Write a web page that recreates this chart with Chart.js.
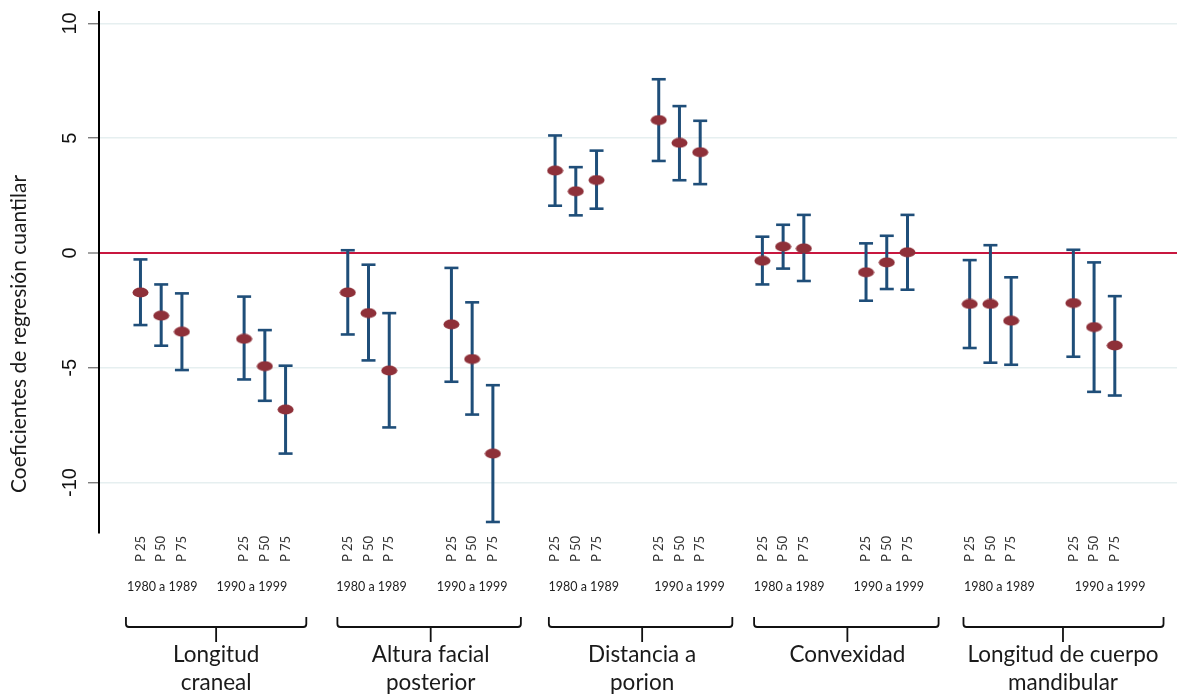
<!DOCTYPE html>
<html>
<head>
<meta charset="utf-8">
<script src="https://cdn.jsdelivr.net/npm/chart.js@4/dist/chart.umd.min.js"></script>
<style>
  html, body { margin: 0; padding: 0; background: #ffffff; }
  #wrap { width: 1178px; height: 695px; position: relative; }
</style>
</head>
<body>
<div id="wrap"><canvas id="c" width="1178" height="695"></canvas></div>
<script>
// ---------------- data ----------------
const groups = [
  ['Longitud', 'craneal'],
  ['Altura facial', 'posterior'],
  ['Distancia a', 'porion'],
  ['Convexidad'],
  ['Longitud de cuerpo', 'mandibular']
];
const periods = ['1980 a 1989', '1990 a 1999'];
const percentiles = ['P 25', 'P 50', 'P 75'];
const yTicks = [-10, -5, 0, 5, 10];
const yTitle = 'Coeficientes de regresión cuantilar';

// order: group -> period -> percentile
const coef = [
  -1.72, -2.73, -3.43,  -3.74, -4.93, -6.82,
  -1.72, -2.62, -5.12,  -3.11, -4.62, -8.74,
   3.59,  2.69,  3.18,   5.79,  4.80,  4.39,
  -0.34,  0.28,  0.20,  -0.84, -0.41,  0.03,
  -2.22, -2.22, -2.95,  -2.18, -3.23, -4.03
];
const upper = [
  -0.28, -1.37, -1.76,  -1.90, -3.36, -4.91,
   0.12, -0.51, -2.62,  -0.65, -2.15, -5.76,
   5.12,  3.74,  4.46,   7.57,  6.40,  5.76,
   0.71,  1.23,  1.66,   0.42,  0.75,  1.66,
  -0.31,  0.34, -1.06,   0.14, -0.41, -1.88
];
const lower = [
  -3.14, -4.04, -5.10,  -5.51, -6.44, -8.74,
  -3.55, -4.68, -7.60,  -5.61, -7.04, -11.72,
   2.06,  1.64,  1.93,   4.01,  3.17,  3.00,
  -1.37, -0.68, -1.22,  -2.08, -1.57, -1.60,
  -4.14, -4.78, -4.87,  -4.52, -6.05, -6.21
];

// ---------------- layout / style ----------------
const FONT = 'Lato, "Open Sans", sans-serif';
const TICKFONT = '"Liberation Sans", Arial, sans-serif';
const WHISKER = '#1f4e79';
const MARKER = '#8e3039';
const ZERO = '#c8173f';

// x position of each estimate: triplets separated by two empty slots
function xPos(i) {
  const t = Math.floor(i / 3), j = i % 3;
  return t * 5 + j;
}

const markerPts = coef.map((v, i) => ({ x: xPos(i), y: v }));
const capPts = [];
coef.forEach((v, i) => { capPts.push({ x: xPos(i), y: upper[i] }); capPts.push({ x: xPos(i), y: lower[i] }); });
const whiskerPts = [];
coef.forEach((v, i) => {
  whiskerPts.push({ x: xPos(i), y: lower[i] });
  whiskerPts.push({ x: xPos(i), y: upper[i] });
  whiskerPts.push({ x: xPos(i), y: null });
});

// ellipse marker image
const mk = document.createElement('canvas');
mk.width = 17; mk.height = 11;
(function () {
  const g = mk.getContext('2d');
  g.fillStyle = MARKER;
  g.beginPath();
  g.ellipse(8.5, 5.5, 8, 5.1, 0, 0, Math.PI * 2);
  g.fill();
})();

// brace spans in x units [left, center, right]
const braces = [
  [-0.7, 3.65, 8.0],
  [9.5, 14.0, 18.35],
  [19.7, 24.2, 28.55],
  [29.6, 34.1, 38.5],
  [39.7, 44.5, 49.35]
];
const yearOffsets = [1, -13, 3, 0, 8, 10, 6, 2, 9, 16];

const annotations = {
  id: 'annotations',
  afterDraw(chart) {
    const ctx = chart.ctx;
    const xs = chart.scales.x, ys = chart.scales.y;
    ctx.save();
    // y tick labels (rotated)
    ctx.fillStyle = '#111';
    ctx.font = '20px ' + TICKFONT;
    ctx.textAlign = 'center';
    ctx.textBaseline = 'middle';
    yTicks.forEach(v => {
      const y = ys.getPixelForValue(v);
      ctx.save();
      ctx.translate(70, y);
      ctx.rotate(-Math.PI / 2);
      ctx.fillText(String(v), 0, 0);
      ctx.restore();
    });
    // y title
    ctx.font = '21px ' + FONT;
    ctx.fillStyle = '#1a1a1a';
    ctx.save();
    ctx.translate(19, 334);
    ctx.rotate(-Math.PI / 2);
    ctx.fillText(yTitle, 0, 0);
    ctx.restore();

    // percentile labels
    ctx.font = '13px ' + FONT;
    ctx.fillStyle = '#333';
    coef.forEach((v, i) => {
      const x = xs.getPixelForValue(xPos(i));
      ctx.save();
      ctx.translate(x, 549);
      ctx.rotate(-Math.PI / 2);
      ctx.textAlign = 'center';
      ctx.fillText(percentiles[i % 3], 0, 0);
      ctx.restore();
    });
    // period labels
    ctx.font = '12.5px ' + FONT;
    ctx.fillStyle = '#222';
    for (let t = 0; t < groups.length * periods.length; t++) {
      const x = xs.getPixelForValue(t * 5 + 1) + yearOffsets[t];
      ctx.fillText(periods[t % 2], x, 587);
    }
    // braces
    ctx.strokeStyle = '#111';
    ctx.lineWidth = 1.8;
    braces.forEach(b => {
      const l = xs.getPixelForValue(b[0]), c = xs.getPixelForValue(b[1]), r = xs.getPixelForValue(b[2]);
      ctx.beginPath();
      ctx.moveTo(l, 617);
      ctx.lineTo(l, 624);
      ctx.quadraticCurveTo(l, 627, l + 3, 627);
      ctx.lineTo(r - 3, 627);
      ctx.quadraticCurveTo(r, 627, r, 624);
      ctx.lineTo(r, 617);
      ctx.moveTo(c, 627);
      ctx.lineTo(c, 642);
      ctx.stroke();
    });
    // group labels
    ctx.font = '22.5px ' + FONT;
    ctx.fillStyle = '#1a1a1a';
    groups.forEach((lines, g) => {
      const c = xs.getPixelForValue(braces[g][1]);
      lines.forEach((s, k) => ctx.fillText(s, c, 655 + k * 28));
    });
    ctx.restore();
  }
};

new Chart(document.getElementById('c'), {
  type: 'scatter',
  data: {
    datasets: [
      {
        label: 'coef', data: markerPts, order: 0,
        pointStyle: mk, pointRadius: 8, showLine: false
      },
      {
        label: 'caps', data: capPts, order: 1,
        pointStyle: 'line', pointRadius: 7, pointBorderWidth: 2.6,
        pointBorderColor: WHISKER, borderColor: WHISKER, showLine: false
      },
      {
        label: 'ci', data: whiskerPts, order: 2,
        showLine: true, spanGaps: false, pointRadius: 0,
        borderColor: WHISKER, borderWidth: 3
      }
    ]
  },
  options: {
    responsive: false,
    animation: false,
    events: [],
    layout: { autoPadding: false, padding: { top: 12, right: 1, bottom: 162, left: 0 } },
    plugins: { legend: { display: false }, tooltip: { enabled: false } },
    scales: {
      x: { type: 'linear', min: -2, max: 50, display: false },
      y: {
        type: 'linear', min: -12.2, max: 10.5,
        afterBuildTicks: s => { s.ticks = yTicks.map(v => ({ value: v })); },
        afterFit: s => { s.width = 99; },
        ticks: { display: false },
        border: { display: true, color: '#000', width: 2 },
        grid: {
          drawTicks: true, tickLength: 11, tickWidth: 1.2,
          tickColor: '#666',
          color: ctx => ctx.tick && ctx.tick.value === 0 ? ZERO : '#e6eff0',
          lineWidth: ctx => ctx.tick && ctx.tick.value === 0 ? 2 : 1.5
        }
      }
    }
  },
  plugins: [annotations]
});
</script>
</body>
</html>
